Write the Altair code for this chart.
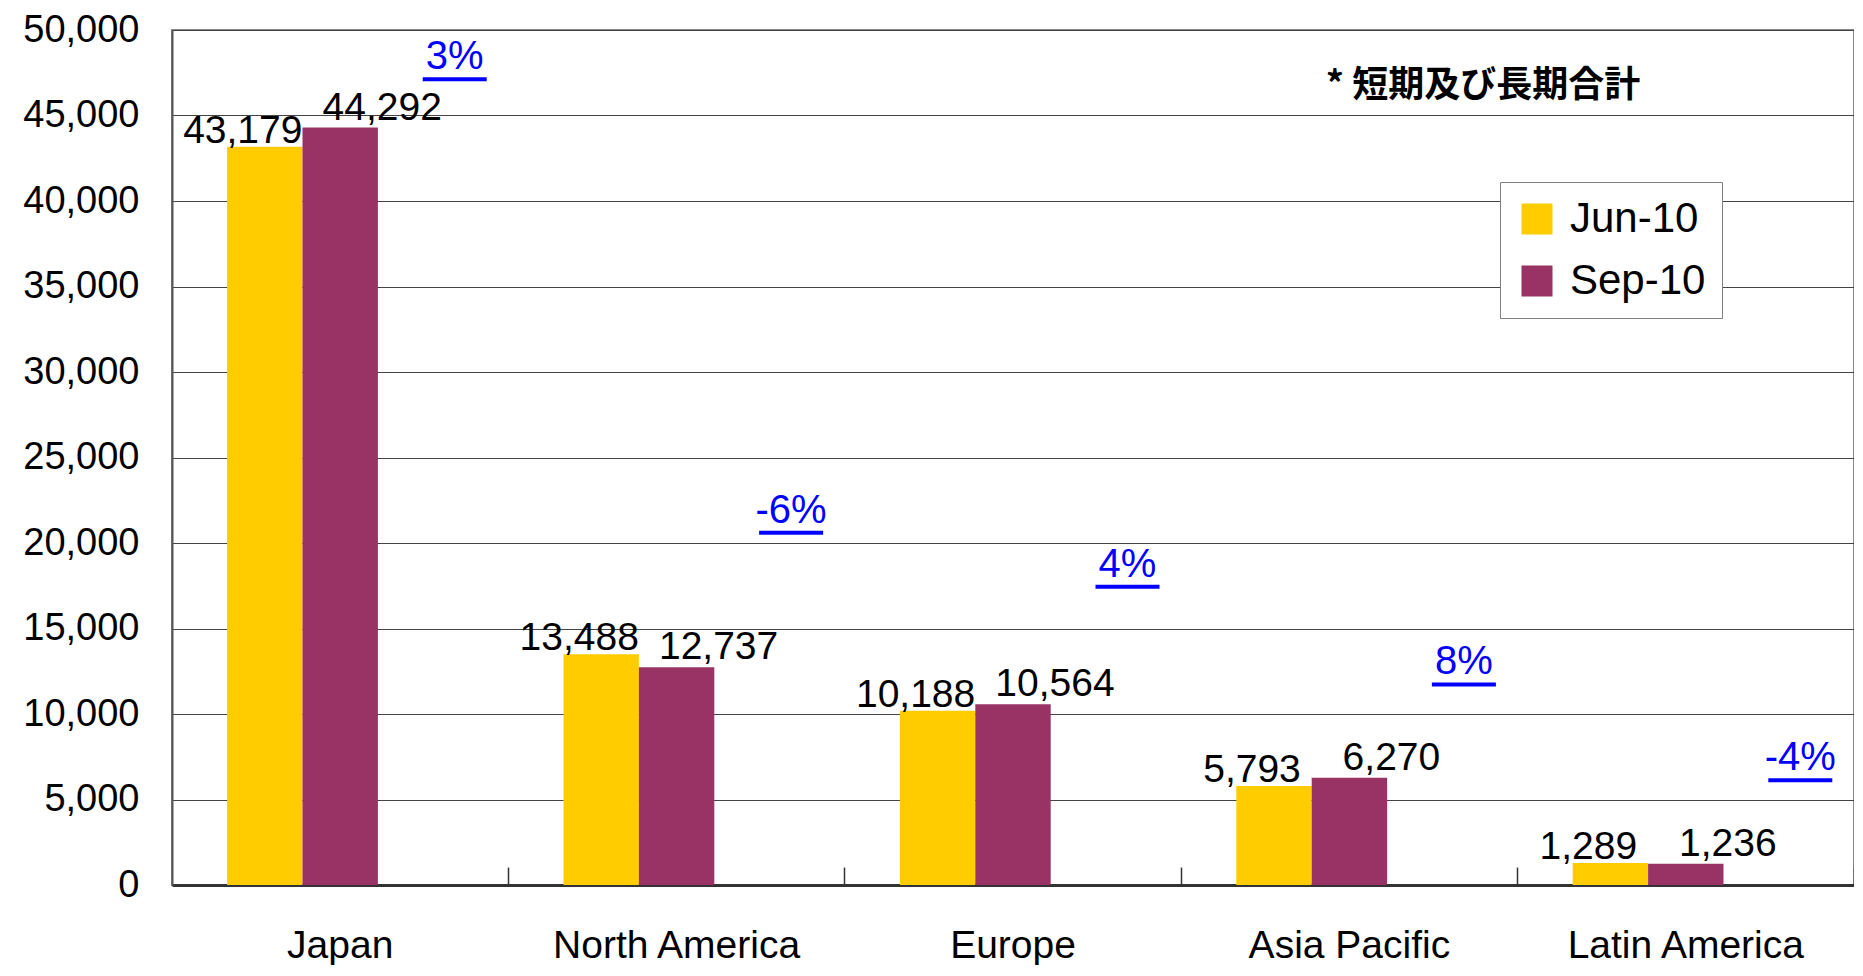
import altair as alt
import pandas as pd

# ---- data ----
categories = ["Japan", "North America", "Europe", "Asia Pacific", "Latin America"]
series = ["Jun-10", "Sep-10"]
jun_values = [43179, 13488, 10188, 5793, 1289]
sep_values = [44292, 12737, 10564, 6270, 1236]
change_labels = ["3%", "-6%", "4%", "8%", "-4%"]
change_label_levels = [47700, 21180, 18030, 12310, 6710]
y_ticks = [0, 5000, 10000, 15000, 20000, 25000, 30000, 35000, 40000, 45000, 50000]
note_text = "* 短期及び長期合計"
empty_slot = "(change)"
series_colors = ["#FFCC00", "#993366"]

bars_df = pd.DataFrame({
    "region": categories * 2,
    "period": [series[0]] * len(categories) + [series[1]] * len(categories),
    "value": jun_values + sep_values,
})
pct_df = pd.DataFrame({
    "region": categories,
    "period": [empty_slot] * len(categories),
    "value": change_label_levels,
    "label": change_labels,
})
note_df = pd.DataFrame({"note": [note_text]})

FONT = "Liberation Sans, Arial, sans-serif"
CJK = "Noto Sans CJK JP, sans-serif"

PAD_INNER = 0.3275
x_scale = alt.Scale(domain=categories, paddingInner=PAD_INNER, paddingOuter=PAD_INNER / 2)
xoff_scale = alt.Scale(domain=series + [empty_slot], paddingInner=0, paddingOuter=0)
y_scale = alt.Scale(domain=[0, 50000], nice=False)

x_enc = alt.X(
    "region:N", sort=categories, scale=x_scale,
    axis=alt.Axis(title=None, labelAngle=0, labelFontSize=39, labelFont=FONT,
                  labelColor="black", labelPadding=41, labelLimit=0, ticks=False,
                  domainColor="#333333", domainWidth=3, grid=False, orient="bottom"),
)
x_plain = alt.X("region:N", sort=categories, scale=x_scale, axis=None)
# category-boundary tick marks pointing up into the plot (as in the original)
x_ticks_enc = alt.X(
    "region:N", sort=categories, scale=x_scale,
    axis=alt.Axis(title=None, orient="bottom", offset=-18, domain=False, labels=False,
                  ticks=True, tickSize=18, tickColor="#333333", tickWidth=1.5,
                  bandPosition=1 + (PAD_INNER / 2) / (1 - PAD_INNER), grid=False),
)
y_axis = alt.Axis(title=None, values=y_ticks, format=",.0f", labelFontSize=38,
                  labelFont=FONT, labelColor="black", labelPadding=33, labelLimit=0,
                  ticks=False, domainColor="#555555", domainWidth=2,
                  grid=True, gridColor="#444444", gridWidth=1)
y_enc = alt.Y("value:Q", scale=y_scale, axis=y_axis)
xoff_enc = alt.XOffset("period:N", scale=xoff_scale)

bars = alt.Chart(bars_df).mark_bar().encode(
    x=x_enc, xOffset=xoff_enc, y=y_enc,
    color=alt.Color(
        "period:N", scale=alt.Scale(domain=series, range=series_colors),
        legend=alt.Legend(
            title=None, orient="none", legendX=1328, legendY=152,
            symbolType="square", symbolSize=961, symbolStrokeWidth=0,
            labelFontSize=42, labelFont=FONT, labelColor="black",
            padding=16, rowPadding=20, labelOffset=12, labelLimit=0,
            strokeColor="#808080", fillColor="white",
        ),
    ),
)

boundary_ticks = alt.Chart(pct_df).mark_point(opacity=0).encode(x=x_ticks_enc, y=y_enc)

jun_text = alt.Chart(bars_df).transform_filter(
    alt.datum.period == series[0]
).mark_text(fontSize=39, font=FONT, color="black", baseline="alphabetic", dx=-22, dy=-4).encode(
    x=x_plain, xOffset=xoff_enc, y=y_enc, text=alt.Text("value:Q", format=",")
)
sep_text = alt.Chart(bars_df).transform_filter(
    alt.datum.period == series[1]
).mark_text(fontSize=39, font=FONT, color="black", baseline="alphabetic", dx=42, dy=-8).encode(
    x=x_plain, xOffset=xoff_enc, y=y_enc, text=alt.Text("value:Q", format=",")
)

pct_text = alt.Chart(pct_df).mark_text(
    fontSize=40, font=FONT, color="#0000FF", baseline="alphabetic", dx=39
).encode(x=x_plain, xOffset=xoff_enc, y=y_enc, text="label:N")

# underline drawn as a short horizontal tick under each change label
pct_underline = alt.Chart(pct_df).mark_tick(
    orient="horizontal", size=64, thickness=4, color="#0000FF", opacity=1,
    xOffset=114.5, yOffset=10,
).encode(x=x_plain, y=y_enc)

note = alt.Chart(note_df).mark_text(
    fontSize=36, font=CJK, fontWeight="bold", color="black", align="center", baseline="middle"
).encode(x=alt.value(1311), y=alt.value(56), text="note:N")

chart = alt.layer(
    bars, boundary_ticks, jun_text, sep_text, pct_text, pct_underline, note
).resolve_axis(x="independent").properties(
    width=1682, height=855,
    padding={"left": 164, "top": 22, "right": 0, "bottom": 80},
    autosize=alt.AutoSizeParams(type="none"),
    background="white",
).configure_view(stroke="#888888", strokeWidth=2)

chart.save("out.html", embed_options={"renderer": "svg", "actions": False})
